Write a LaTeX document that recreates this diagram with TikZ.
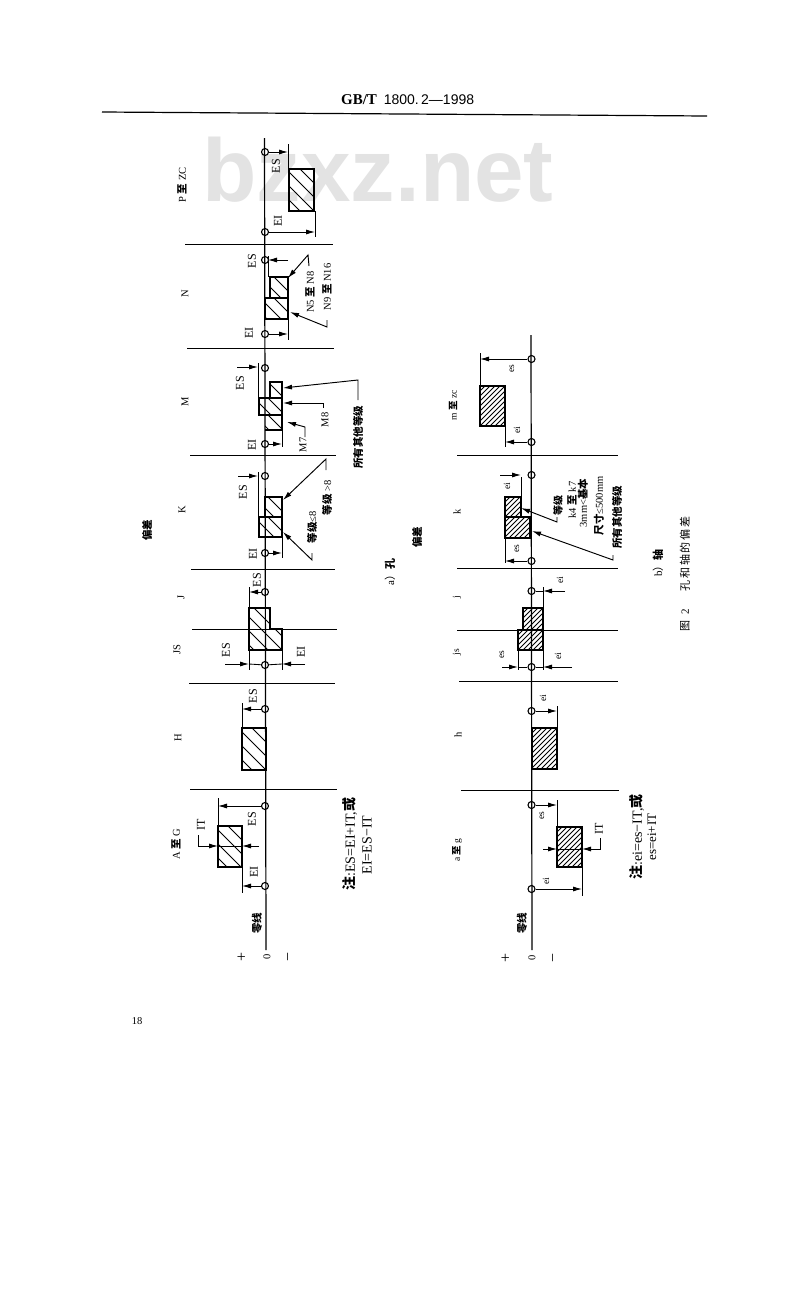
\documentclass[tikz,border=0pt]{standalone}
\usepackage{fontspec}
\setmainfont{Liberation Serif}
\newfontfamily\cjk{Noto Sans CJK SC}
\newfontfamily\hsans{Liberation Sans}
\usetikzlibrary{arrows.meta}
\newcommand{\zh}[1]{{\cjk\bfseries #1}}
\newcommand{\zhn}[1]{{\cjk #1}}
\newcommand{\sparsehatch}[5]{%
  \begin{scope}
    \clip #1;
    \pgfmathtruncatemacro\cA{#3-#4}
    \pgfmathtruncatemacro\cB{\cA+14}
    \pgfmathtruncatemacro\cC{#5-#2}
    \foreach \c in {\cA,\cB,...,\cC}{\draw[hatchline] (#2-2,#2-2+\c) -- (#4+2,#4+2+\c);}
  \end{scope}}
\newcommand{\densehatch}[5]{%
  \begin{scope}
    \clip #1;
    \pgfmathtruncatemacro\cA{#2+#3}
    \pgfmathtruncatemacro\cB{\cA+5}
    \pgfmathtruncatemacro\cC{#4+#5}
    \foreach \c in {\cA,\cB,...,\cC}{\draw[hatchline] (#2-2,\c-#2+2) -- (#4+2,\c-#4-2);}
  \end{scope}}
\tikzset{
  x=1pt,y=-1pt,
  lab/.style={rotate=90,inner sep=0pt,font=\fontsize{12}{12}\selectfont},
  smalllab/.style={rotate=90,inner sep=0pt,font=\fontsize{9.5}{10}\selectfont},
  cat/.style={rotate=90,inner sep=0pt,font=\fontsize{10.5}{11}\selectfont},
  sym/.style={rotate=90,inner sep=0pt,font=\fontsize{16}{16}\selectfont},
  notes/.style={rotate=90,inner sep=0pt,font=\fontsize{14}{14}\selectfont},
  zhbold/.style={rotate=90,inner sep=0pt,font=\cjk\bfseries\fontsize{10.5}{11}\selectfont},
  hatchline/.style={line width=0.85pt},
  zeroline/.style={line width=1.2pt},
  sep/.style={line width=1pt},
  box/.style={line width=1.6pt},
  ext/.style={line width=0.85pt},
  dim/.style={line width=0.85pt,-{Latex[length=9pt,width=5pt]}},
  lead/.style={line width=0.95pt,{Latex[length=9pt,width=5pt]}-},
  zc/.style={circle,draw,line width=1.1pt,minimum size=7pt,inner sep=0pt},
}
\begin{document}
\begin{tikzpicture}
\useasboundingbox (0,0) rectangle (800,1296);
\fill[white] (0,0) rectangle (800,1296);
% watermark
\node[inner sep=0pt,text=black!11,font=\hsans\bfseries\fontsize{89}{89}\selectfont] (wm) at (378,170) {bzxz.net};
% header
\node[inner sep=0pt,font=\bfseries\fontsize{15}{15}\selectfont] (hd1) at (359,100) {GB/T};
\node[inner sep=0pt,font=\hsans\fontsize{14}{15}\selectfont] (hd2) at (429,100) {1800.\,2—1998};
\draw[line width=1.2pt] (102,112) -- (707,116);
\node[inner sep=0pt,font=\fontsize{10.5}{10.5}\selectfont] (pg) at (137,1021) {18};

%%%%%%%%% upper diagram
\coordinate (ztop) at (264.5,138);
\coordinate (zbot) at (266,950);
\draw[zeroline] (ztop) -- (zbot);
\foreach \y/\a/\b in {244/185/333,348/187/334,455/190/336,569/191/335,629/192/337,683/189/335,789/190/337}
  \draw[sep] (\a,\y) -- (\b,\y);
\foreach \n/\y in {p1/152,p2/232,n1/260,n2/334,m1/368,m2/444,k1/476,k2/553,j1/592,js1/665,h1/709,a1/806,a2/886}
  \node[zc] (\n) at (265,\y) {};

% P to ZC
\sparsehatch{(289,169) rectangle (314,211)}{289}{169}{314}{211}
\draw[box] (289,169) rectangle (314,211);
\draw[ext] (288,144) -- (288,169);
\draw[ext] (315,211) -- (315,237);
\draw[dim] (p1) -- (288,152);
\draw[dim] (p2) -- (315,232);
\node[lab] (lp1) at (276,166) {ES};
\node[lab] (lp2) at (278,221) {EI};
\node[cat] (cp) at (182,185) {P \zh{至} ZC};

% N
\sparsehatch{(270,277) rectangle (288,298)}{270}{277}{288}{298}
\sparsehatch{(265,298) rectangle (288,319)}{265}{298}{288}{319}
\draw[box] (270,298) -- (270,277) -- (288,277) -- (288,319) -- (265,319) -- (265,298) -- (288,298);
\draw[ext] (268,256) -- (268,277);
\draw[ext] (288,319) -- (288,340);
\draw[dim] (288,260) -- (268,260);
\draw[dim] (n2) -- (288,334);
\node[lab] (ln1) at (252,261) {ES};
\node[lab] (ln2) at (249,333) {EI};
\node[cat] (cn) at (185,294) {N};
\coordinate (nl1) at (308,255);
\draw[lead] (288,278) -- (nl1) -- (309,266);
\coordinate (nl2) at (327,327);
\draw[lead] (290,312) -- (nl2) -- (327,320);
\node[cat] (tn1) at (310,292) {N5 \zh{至} N8};
\node[cat] (tn2) at (327,287) {N9 \zh{至} N16};

% M
\sparsehatch{(270,382) rectangle (282,398)}{270}{382}{282}{398}
\sparsehatch{(259,398) rectangle (282,415)}{259}{398}{282}{415}
\sparsehatch{(265,415) rectangle (282,430)}{265}{415}{282}{430}
\draw[box] (270,398) -- (270,382) -- (282,382) -- (282,430) -- (265,430);
\draw[box] (259,398) rectangle (282,415);
\draw[ext] (258,363) -- (258,398);
\draw[ext] (282,430) -- (282,447);
\coordinate (mf) at (237,367);
\draw[dim] (mf) -- (258,367);
\draw[dim] (m2) -- (282,444);
\node[lab] (lm1) at (240,383) {ES};
\node[lab] (lm2) at (252,445) {EI};
\node[cat] (cm) at (185,402) {M};
\coordinate (ml1) at (358,380);
\draw[lead] (283,388) -- (ml1) -- (358,400);
\coordinate (ml2) at (323,403);
\draw[lead] (283,403) -- (ml2) -- (323,408);
\coordinate (ml3) at (305,427);
\draw[lead] (287,422) -- (ml3) -- (305,437);
\node[cat] (tm1) at (358,437) {\zh{所有其他等级}};
\node[cat] (tm2) at (325,420) {M8};
\node[cat] (tm3) at (303,445) {M7};

% K
\sparsehatch{(265,497) rectangle (282,517)}{265}{497}{282}{517}
\sparsehatch{(259,517) rectangle (282,537)}{259}{517}{282}{537}
\draw[box] (265,517) -- (265,497) -- (282,497) -- (282,537) -- (259,537) -- (259,517) -- (282,517);
\draw[ext] (258,472) -- (258,517);
\draw[ext] (282,537) -- (282,558);
\draw[dim] (238,476) -- (258,476);
\draw[dim] (k2) -- (282,553);
\node[lab] (lk1) at (243,492) {ES};
\node[lab] (lk2) at (253,554) {EI};
\node[cat] (ck) at (182,510) {K};
\coordinate (kl1) at (326,459);
\draw[lead] (283,500) -- (kl1) -- (326,470);
\coordinate (kl2) at (312,560);
\draw[lead] (283,532) -- (kl2) -- (312,553);
\node[cat] (tk1) at (327,498) {\zh{等级} >8};
\node[cat] (tk2) at (312,527) {\zh{等级}≤8};
\node[zhbold] (dev1) at (147,530) {偏差};

% J / JS
\sparsehatch{(249,608) -- (270,608) -- (270,629) -- (282,629) -- (282,650) -- (249,650) -- cycle}{249}{608}{282}{650}
\draw[box] (249,608) -- (270,608) -- (270,629) -- (282,629) -- (282,650) -- (249,650) -- cycle;
\draw[ext] (249,587) -- (249,608);
\draw[dim] (j1) -- (249,592);
\node[lab] (lj1) at (257,580) {ES};
\node[cat] (cj) at (181,597) {J};
\draw[ext] (249,650) -- (249,670);
\draw[ext] (282,650) -- (282,670);
\draw[dim] (225,664) -- (249,664);
\draw[dim] (305,664) -- (282,664);
\draw[ext] (249,664) -- (js1);
\draw[ext] (282,664) -- (js1);
\node[lab] (ljs1) at (226,650) {ES};
\node[lab] (ljs2) at (301,652) {EI};
\node[cat] (cjs) at (177,650) {JS};

% H
\sparsehatch{(242,728) rectangle (266,770)}{242}{728}{266}{770}
\draw[box] (242,728) rectangle (266,770);
\draw[ext] (242,703) -- (242,728);
\draw[dim] (h1) -- (242,709);
\node[lab] (lh1) at (253,696) {ES};
\node[cat] (ch) at (178,738) {H};

% A to G
\sparsehatch{(218,826) rectangle (242,867)}{218}{826}{242}{867}
\draw[box] (218,826) rectangle (242,867);
\draw[ext] (218,798) -- (218,826);
\draw[ext] (242,867) -- (242,893);
\draw[dim] (a1) -- (218,806);
\draw[dim] (a2) -- (242,886);
\draw[ext] (218,846) -- (242,846);
\coordinate (it1) at (198,846);
\draw[dim] (198,835) -- (it1) -- (218,846);
\draw[dim] (259,846) -- (242,846);
\node[lab] (lit) at (201,825) {IT};
\node[lab] (la1) at (252,819) {ES};
\node[lab] (la2) at (254,872) {EI};
\node[cat] (ca) at (176,844) {A \zh{至} G};
\node[zhbold] (zl1) at (257,923) {零线};
\node[sym] (pl1) at (242,957) {+};
\node[cat] (ze1) at (267,957) {0};
\node[sym] (mi1) at (290,957) {−};
\node[notes] (n1a) at (350,844) {\zh{注}:ES=EI+IT,\zh{或}};
\node[notes] (n1b) at (367,845) {EI=ES−IT};
\node[lab,font=\fontsize{11}{11}\selectfont] (capa) at (390,572) {a\zhn{）}\zh{孔}};

%%%%%%%%% lower diagram
\coordinate (ltop) at (531,335);
\coordinate (lbot) at (532,950);
\draw[zeroline] (ltop) -- (lbot);
\foreach \y/\a/\b in {455/457/618,568/457/618,630/457/618,681/459/618,790/461/619}
  \draw[sep] (\a,\y) -- (\b,\y);
\foreach \n/\y in {bm1/359,bm2/442,bk1/475,bk2/561,bj1/591,bjs/667,bh1/711,ba1/805,ba2/889}
  \node[zc] (\n) at (531.5,\y) {};

% m to zc
\densehatch{(480,386) rectangle (505,426)}{480}{386}{505}{426}
\draw[box] (480,386) rectangle (505,426);
\draw[ext] (480,353) -- (480,386);
\draw[ext] (505,426) -- (505,447);
\draw[dim] (bm1) -- (480,359);
\draw[dim] (bm2) -- (505,442);
\node[smalllab] (lbm1) at (512,369) {es};
\node[smalllab] (lbm2) at (517,430) {ei};
\node[smalllab] (cbm) at (453,405) {m \zh{至} zc};

% k
\densehatch{(505,497) rectangle (521,517)}{505}{497}{521}{517}
\densehatch{(505,517) rectangle (530,538)}{505}{517}{530}{538}
\draw[box] (505,517) -- (505,497) -- (521,497) -- (521,517);
\draw[box] (505,517) rectangle (530,538);
\draw[ext] (521,477) -- (521,497);
\draw[ext] (505,538) -- (505,563);
\draw[dim] (500,475) -- (521,475);
\draw[dim] (bk2) -- (505,561);
\node[smalllab] (lbk1) at (507,486) {ei};
\node[smalllab] (lbk2) at (517,549) {es};
\node[cat] (cbk) at (457,512) {k};
\coordinate (bkl1) at (557,522);
\draw[lead] (521,508) -- (bkl1) -- (557,517);
\coordinate (bkl2) at (613,560);
\draw[lead] (532,531) -- (bkl2) -- (613,555);
\node[cat,font=\fontsize{10}{10}\selectfont] (tbk1) at (558,505) {\zh{等级}};
\node[cat] (tbk2) at (572,500) {k4 \zh{至} k7};
\node[cat] (tbk3) at (583,503) {3mm<\zh{基本}};
\node[cat] (tbk4) at (599,506) {\zh{尺寸}≤500mm};
\node[cat] (tbk5) at (617,517) {\zh{所有其他等级}};
\node[zhbold] (dev2) at (417,537) {偏差};

% j / js
\densehatch{(523,608) rectangle (543,630)}{523}{608}{543}{630}
\densehatch{(518,630) rectangle (543,650)}{518}{630}{543}{650}
\draw[box] (523,630) -- (523,608) -- (543,608) -- (543,650) -- (518,650) -- (518,630) -- (543,630);
\draw[ext] (543,587) -- (543,608);
\draw[dim] (565,591) -- (543,591);
\draw[ext] (543,591) -- (bj1);
\node[smalllab] (lbj1) at (560,580) {ei};
\node[smalllab] (cbj) at (457,597) {j};
\draw[ext] (518,650) -- (518,670);
\draw[ext] (543,650) -- (543,670);
\draw[dim] (502,667) -- (518,667);
\draw[dim] (572,667) -- (543,667);
\draw[ext] (518,667) -- (bjs);
\draw[ext] (543,667) -- (bjs);
\node[smalllab] (lbjs1) at (502,655) {es};
\node[smalllab] (lbjs2) at (558,656) {ei};
\node[smalllab] (cbjs) at (457,652) {js};

% h
\densehatch{(532,728) rectangle (557,769)}{532}{728}{557}{769}
\draw[box] (532,728) rectangle (557,769);
\draw[ext] (557,706) -- (557,728);
\draw[dim] (bh1) -- (557,711);
\node[smalllab] (lbh1) at (543,698) {ei};
\node[cat] (cbh) at (458,735) {h};

% a to g
\densehatch{(557,827) rectangle (582,867)}{557}{827}{582}{867}
\draw[box] (557,827) rectangle (582,867);
\draw[ext] (557,800) -- (557,827);
\draw[ext] (582,867) -- (582,896);
\draw[dim] (ba1) -- (557,805);
\draw[dim] (ba2) -- (582,889);
\draw[ext] (557,849) -- (582,849);
\draw[dim] (543,849) -- (557,849);
\coordinate (bit) at (600,849);
\draw[dim] (600,838) -- (bit) -- (582,849);
\node[lab] (lbit) at (599,829) {IT};
\node[smalllab] (lba1) at (542,816) {es};
\node[smalllab] (lba2) at (546,881) {ei};
\node[smalllab] (cba) at (457,850) {a \zh{至} g};
\node[zhbold] (zl2) at (522,923) {零线};
\node[sym] (pl2) at (506,958) {+};
\node[cat] (ze2) at (532,958) {0};
\node[sym] (mi2) at (555,958) {−};
\node[notes] (n2a) at (637,837) {\zh{注}:ei=es−IT,\zh{或}};
\node[notes,font=\fontsize{13}{13}\selectfont] (n2b) at (652,837) {es=ei+IT};
\node[lab,font=\fontsize{11}{11}\selectfont] (capb) at (658,563) {b\zhn{）}\zh{轴}};
\node[lab,font=\cjk\fontsize{11}{11}\selectfont] (fig) at (685,554) {孔\,和\,轴\,的\,偏\,差};
\node[lab,font=\fontsize{11}{11}\selectfont] (fign) at (685,620) {\zhn{图}\ \ 2};
\end{tikzpicture}
\end{document}
